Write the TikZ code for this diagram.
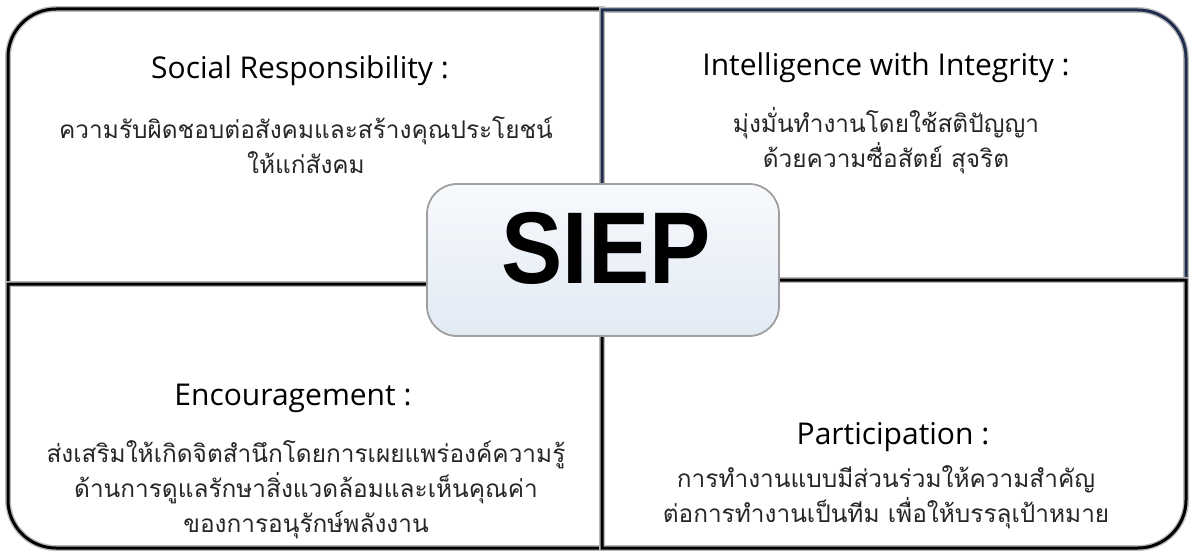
\documentclass[tikz,border=0pt]{standalone}
\usepackage{fontspec}
\setmainfont{Open Sans}
\newfontfamily\thaifont[Script=Thai]{Loma}
\newfontfamily\logofont{Liberation Sans}
\definecolor{navy}{HTML}{1F2D4F}
\definecolor{hubtop}{HTML}{F7F9FC}
\definecolor{hubbot}{HTML}{E2EAF4}

\begin{document}
\begin{tikzpicture}
[
  x=0.5pt, y=-0.5pt,
  quad/.style={line width=1.5pt,preaction={draw=gray!55,line width=2.9pt}},
  head/.style={font=\fontsize{15}{18}\selectfont},
  body/.style={font=\thaifont\fontsize{12.2}{17.5}\selectfont,align=center,text=black!85},
  hub/.style={draw=gray!75,line width=0.9pt,rounded corners=15pt,top color=hubtop,bottom color=hubbot,
    minimum width=176pt,minimum height=76pt}
]
\useasboundingbox (0,0) rectangle (1192,556);

% quadrants
\draw[quad] (602,284) -- (8,284) [rounded corners=24pt] -- (8,9) [sharp corners] -- (602,9) -- cycle;
\draw[quad,navy] (602,280) -- (602,10) [rounded corners=24pt] -- (1186,10) [sharp corners] -- (1186,280) -- cycle;
\draw[quad] (602,284) -- (602,548) [rounded corners=24pt] -- (8,548) [sharp corners] -- (8,284) -- cycle;
\draw[quad] (602,280) -- (1186,280) [rounded corners=24pt] -- (1186,548) [sharp corners] -- (602,548) -- cycle;

% texts
\node[head] (sochead) at (300,71) {Social Responsibility :};
\node[body] (socbody) at (306,145) {ความรับผิดชอบต่อสังคมและสร้างคุณประโยชน์\\ให้แก่สังคม};

\node[head] (inthead) at (886,68) {Intelligence with Integrity :};
\node[body] (intbody) at (886,141) {มุ่งมั่นทำงานโดยใช้สติปัญญา\\ด้วยความซื่อสัตย์ สุจริต};

\node[head] (enchead) at (293,398) {Encouragement :};
\node[body] (encbody) at (306,490) {ส่งเสริมให้เกิดจิตสำนึกโดยการเผยแพร่องค์ความรู้\\ด้านการดูแลรักษาสิ่งแวดล้อมและเห็นคุณค่า\\ของการอนุรักษ์พลังงาน};

\node[head] (parhead) at (893,437) {Participation :};
\node[body] (parbody) at (886,497) {การทำงานแบบมีส่วนร่วมให้ความสำคัญ\\ต่อการทำงานเป็นทีม เพื่อให้บรรลุเป้าหมาย};

% centre
\node[hub] (hub) at (603,260) {};
\node (siep) at (606,248) {\logofont\bfseries\fontsize{51}{51}\selectfont\scalebox{0.9}[1]{SIEP}};

\end{tikzpicture}
\end{document}
